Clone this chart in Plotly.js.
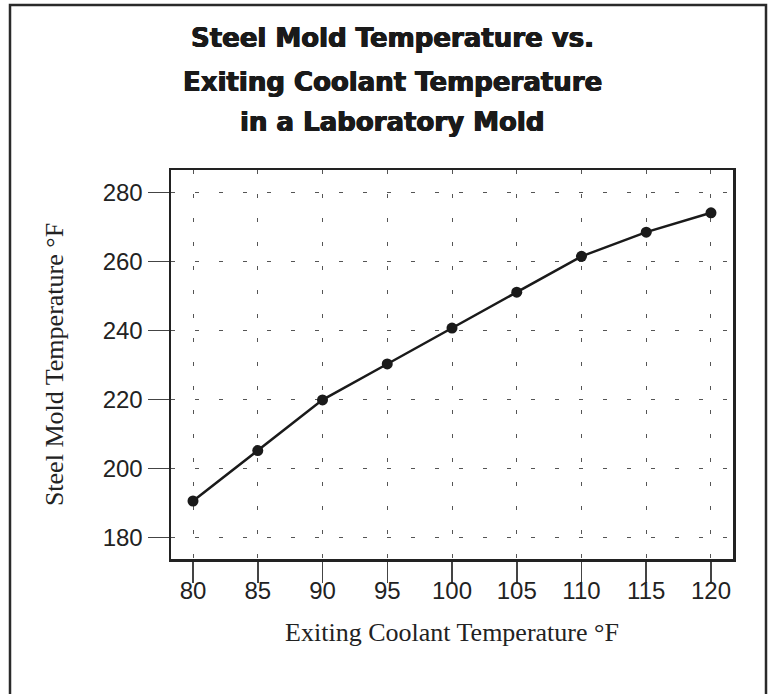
<!DOCTYPE html>
<html>
<head>
<meta charset="utf-8">
<script src="https://cdn.plot.ly/plotly-3.0.1.min.js"></script>
<style>
html,body{margin:0;padding:0;background:#fff;}
#chart{width:768px;height:694px;}
</style>
</head>
<body>
<div id="chart"></div>
<script>
// Data
var coolantTemp = [80, 85, 90, 95, 100, 105, 110, 115, 120];
var moldTemp = [190.6, 205.2, 219.9, 230.3, 240.7, 251.1, 261.5, 268.5, 274.1];
var xTicks = [80, 85, 90, 95, 100, 105, 110, 115, 120];
var yTicks = [180, 200, 220, 240, 260, 280];
var titleLines = ["Steel Mold Temperature vs.", "Exiting Coolant Temperature", "in a Laboratory Mold"];
var xTitle = "Exiting Coolant Temperature °F";
var yTitle = "Steel Mold Temperature °F";

var W = 768, H = 694;
var mL = 171, mR = 35, mT = 170, mB = 135;
var pw = W - mL - mR, ph = H - mT - mB;
function px(x){ return (x - mL) / pw; }
function py(y){ return (H - mB - y) / ph; }

var trace = {
  x: coolantTemp,
  y: moldTemp,
  type: 'scatter',
  mode: 'lines+markers',
  line: {color: '#1a1a1a', width: 2.5},
  marker: {color: '#1a1a1a', size: 11},
  hoverinfo: 'x+y'
};

var titleY = [38, 82, 122];
var annotations = titleLines.map(function(t, i){
  return {
    text: t, xref: 'paper', yref: 'paper',
    x: px(392), y: py(titleY[i]), xanchor: 'center', yanchor: 'middle',
    showarrow: false,
    font: {family: 'DejaVu Sans', size: 26, color: '#1a1a1a', weight: 'bold',
      shadow: '0.6px 0 0 #1a1a1a, -0.6px 0 0 #1a1a1a, 0 0.4px 0 #1a1a1a'}
  };
});

var frame = {
  type: 'path', xref: 'paper', yref: 'paper',
  path: 'M ' + px(10) + ' ' + py(700) + ' L ' + px(10) + ' ' + py(5) +
        ' L ' + px(766) + ' ' + py(5) + ' L ' + px(766) + ' ' + py(700),
  line: {color: '#2a2a2a', width: 2.5}
};

var axisCommon = {
  showline: true, linecolor: '#222', linewidth: 2.5, mirror: true,
  ticks: 'outside', ticklen: 21, tickwidth: 1.5, tickcolor: '#444',
  showgrid: true, gridcolor: '#555', gridwidth: 1, griddash: '4px,20px',
  zeroline: false,
  tickfont: {family: 'Liberation Sans, Arial, sans-serif', size: 24, color: '#222'}
};

var layout = {
  width: W, height: H,
  margin: {l: mL, r: mR, t: mT, b: mB, pad: 0},
  paper_bgcolor: '#fff', plot_bgcolor: '#fff',
  showlegend: false,
  xaxis: Object.assign({}, axisCommon, {
    range: [78.3, 121.7], tickmode: 'array', tickvals: xTicks,
    ticktext: xTicks.map(String), ticklabelstandoff: -12,
    title: {text: xTitle, standoff: 20,
      font: {family: 'Liberation Serif, Times New Roman, serif', size: 26, color: '#222'}}
  }),
  yaxis: Object.assign({}, axisCommon, {
    range: [173.8, 286.5], tickmode: 'array', tickvals: yTicks,
    ticktext: yTicks.map(String), ticklabelstandoff: 0,
    title: {text: yTitle, standoff: 32,
      font: {family: 'Liberation Serif, Times New Roman, serif', size: 26, color: '#222'}}
  }),
  annotations: annotations,
  shapes: [frame]
};

Plotly.newPlot('chart', [trace], layout, {displayModeBar: false, staticPlot: true});
</script>
</body>
</html>
